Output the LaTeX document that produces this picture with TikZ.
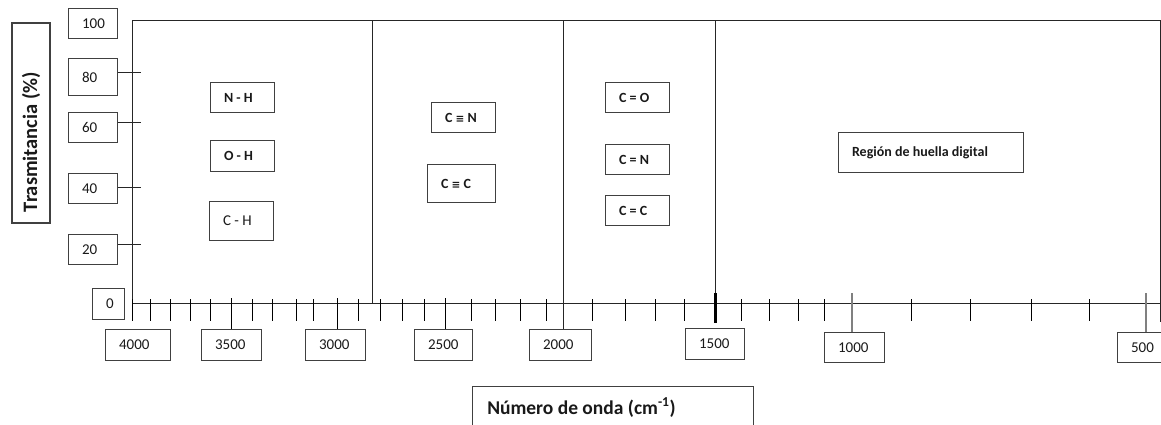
\documentclass[tikz,border=0pt]{standalone}
\usepackage{fontspec}
\setmainfont{Carlito}
\newfontfamily\symfont{DejaVu Sans}
\newcommand\eqv{{\symfont\fontsize{10.5}{10.5}\selectfont ≡}}
\newcommand\lblbox[7]{\node[bx,minimum width=#4pt,minimum height=#5pt,#6] (#1) at (#2,#3) {\makebox[\dimexpr#4pt-27pt\relax][l]{#7}};}
\begin{document}
\begin{tikzpicture}[x=1pt,y=-1pt,
  bx/.style={draw=black!75,line width=1.1pt,anchor=north west,inner xsep=13.5pt,inner ysep=0pt,text=black!90,font=\fontsize{15}{18}\selectfont},
  bl/.style={font=\fontsize{14}{17}\selectfont\bfseries},
  ln/.style={draw=black!85,line width=1pt},
  tk/.style={draw=black,line width=0.9pt},
  gtk/.style={draw=black!50,line width=1.1pt},
  thk/.style={draw=black,line width=3pt}]
\useasboundingbox (0,0) rectangle (1161,425);
% frame and axes
\draw[ln] (132,21) -- (1161,21);
\draw[ln] (132,21) -- (132,303);
\draw[ln] (1160,21) -- (1160,322);
\draw[ln] (132,303) -- (1161,303);
\draw[ln] (372,21) -- (372,303);
\draw[ln] (715,21) -- (715,303);
% value boxes, y axis
\lblbox{y100}{68}{8}{49}{30}{}{100}
\lblbox{y80}{68}{58}{49}{37}{}{80}
\lblbox{y60}{68}{112}{49}{30}{}{60}
\lblbox{y40}{68}{173}{49}{30}{}{40}
\lblbox{y20}{68}{234}{49}{30}{}{20}
\lblbox{y0}{92}{288}{32}{31}{}{0}
% value boxes, x axis
\lblbox{x4000}{105}{329}{65}{31}{}{4000}
\lblbox{x3500}{201}{329}{60}{31}{}{3500}
\lblbox{x3000}{305}{329}{60}{31}{}{3000}
\lblbox{x2500}{414}{329}{58}{31}{}{2500}
\lblbox{x2000}{529}{329}{62}{31}{}{2000}
\lblbox{x1500}{685}{328}{59}{31}{}{1500}
\lblbox{x1000}{824}{332}{60}{30}{}{1000}
\lblbox{x500}{1117}{332}{50}{30}{}{500}
% band boxes
\lblbox{nh}{210}{82}{64}{30}{bl}{N - H}
\lblbox{oh}{210}{140}{64}{31}{bl}{O - H}
\lblbox{ch}{209}{201}{64}{39}{}{C - H}
\lblbox{ctn}{431}{102}{64}{30}{bl}{C \eqv{} N}
\lblbox{ctc}{427}{164}{68}{38}{bl}{C \eqv{} C}
\lblbox{cdo}{605}{82}{64}{30}{bl}{C = O}
\lblbox{cdn}{605}{144}{64}{30}{bl}{C = N}
\lblbox{cdc}{605}{195}{64}{30}{bl}{C = C}
\lblbox{reg}{838}{132}{185}{40}{bl}{Región de huella digital}
% axis titles
\node[bx,minimum width=281pt,minimum height=42pt,inner xsep=14.7pt,font=\fontsize{19.5}{22}\selectfont\bfseries] (xt) at (472,386) {\makebox[251.6pt][l]{Número de onda (cm\textsuperscript{-1})}};
\node[bx,anchor=center,rotate=90,minimum width=200pt,minimum height=38pt,inner xsep=11pt,font=\fontsize{20.5}{24}\selectfont\bfseries] (ylab) at (31,123) {\makebox[178pt][l]{Trasmitancia (\%)}};
% divider at 2000 reaching its box
\coordinate (d2000) at (563,21);
\draw[ln] (d2000) -- (d2000 |- x2000.north);
% y ticks
\foreach \n/\yy in {y80/73,y60/123,y40/187,y20/244}{
  \coordinate (k) at (141,\yy);
  \draw[ln] (k -| \n.east) -- (k);
}
% small x ticks
\foreach \x in {132.3,150,170,190,210,252.7,272.7,296,313,358,380.7,402,424,471.7,495,520.7,546,592.9,625.2,655.2,684.8,741.7,769,798.2,824,911.6,970.9,1031.7,1089}
  \draw[tk] (\x,299) -- (\x,321);
% tall x ticks to boxes
\foreach \n/\x in {x3500/231.7,x3000/337,x2500/445.7}{
  \coordinate (c) at (\x,298);
  \draw[tk] (c) -- (c |- \n.north);
}
\foreach \n/\x in {x1000/852,x500/1146}{
  \coordinate (c) at (\x,293);
  \draw[gtk] (c) -- (c |- \n.north);
}
\draw[thk] (715.5,293) -- (715.5,323);
\end{tikzpicture}
\end{document}
